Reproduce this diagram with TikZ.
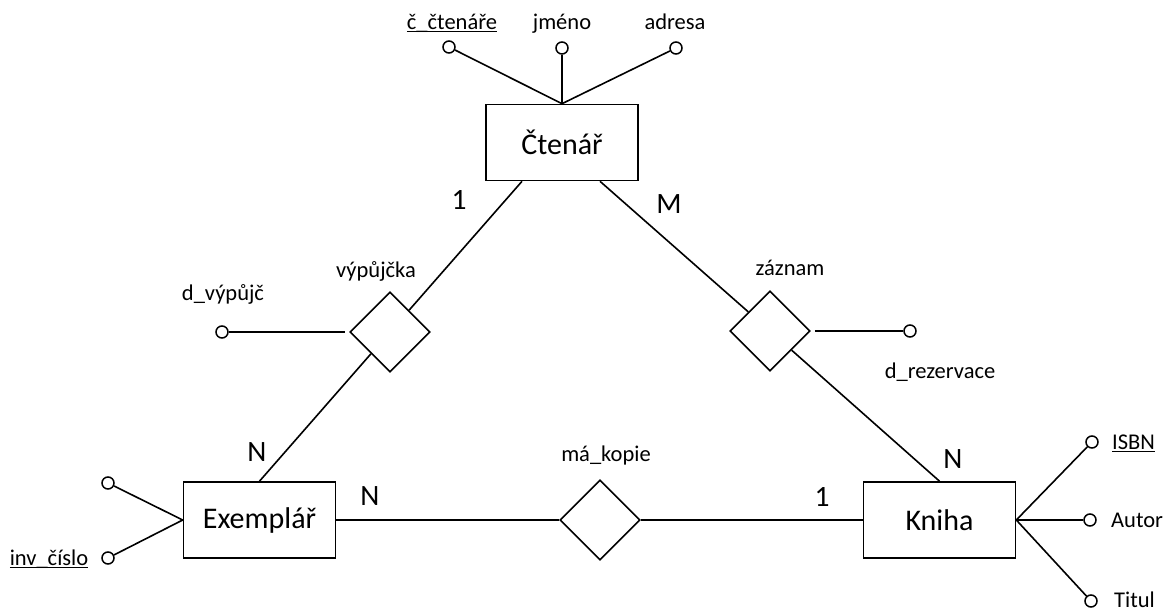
\documentclass[tikz,border=0pt]{standalone}
\usepackage{fontspec}
\setmainfont{Carlito}
\usetikzlibrary{shapes.geometric}
% key attribute: underline at the height of the underscore
\newcommand\keyattr[1]{\setbox0\hbox{#1}\rlap{\rule[-2.9pt]{\wd0}{1.2pt}}\box0}
\tikzset{
  entity/.style={draw, line width=1.6pt, minimum width=152pt, minimum height=76pt,
    inner sep=0pt, font=\fontsize{30}{36}\selectfont},
  relation/.style={draw, diamond, line width=1.6pt, minimum width=80pt,
    minimum height=80pt, inner sep=0pt},
  attr/.style={draw, circle, line width=1.5pt, minimum size=12pt, inner sep=0pt},
  lbl/.style={inner sep=0pt, anchor=base, font=\fontsize{22.5}{27}\selectfont},
  card/.style={inner sep=0pt, anchor=base, font=\fontsize{29.5}{35}\selectfont},
  link/.style={line width=1.6pt},
}
\begin{document}
\begin{tikzpicture}[x=1pt, y=-1pt]
\useasboundingbox (0,0) rectangle (1171,613);

% entities
\node[entity] (ctenar) at (562,142.5) {Čtenář};
\node[entity] (exemplar) at (259.5,520) {Exemplář};
\node[entity] (kniha) at (939.5,520) {Kniha};

% relationships
\node[relation] (vypujcka) at (390,332) {};
\node[relation] (zaznam) at (770,331) {};
\node[relation] (makopie) at (600,520) {};

% attribute circles
\node[attr] (cislo) at (449,47) {};
\node[attr] (jmeno) at (562,48) {};
\node[attr] (adresa) at (676,48) {};
\node[attr] (dvyp) at (222,332) {};
\node[attr] (drez) at (910,331) {};
\node[attr] (exa) at (108,483) {};
\node[attr] (inv) at (108,558) {};
\node[attr] (isbn) at (1092,442) {};
\node[attr] (autor) at (1090,520) {};
\node[attr] (titul) at (1091,601) {};

% labels
\node[lbl] (lcislo) at (452,29) {\keyattr{č\_čtenáře}};
\node[lbl] (ljmeno) at (562,29) {jméno};
\node[lbl] (ladresa) at (675,29) {adresa};
\node[lbl] (lvyp) at (376,277) {výpůjčka};
\node[lbl] (ldvyp) at (223,300) {d\_výpůjč};
\node[lbl] (lzaz) at (790,275) {záznam};
\node[lbl] (ldrez) at (940,378) {d\_rezervace};
\node[lbl] (lmak) at (606,461) {má\_kopie};
\node[lbl] (linv) at (49,565) {\keyattr{inv\_číslo}};
\node[lbl, anchor=base west] (lisbn) at (1112,449) {\keyattr{ISBN}};
\node[lbl, anchor=base west] (lautor) at (1111,527) {Autor};
\node[lbl, anchor=base west] (ltitul) at (1114,607) {Titul};

% cardinalities
\node[card] (k1) at (459,209) {1};
\node[card] (k2) at (669,213) {M};
\node[card] (k3) at (257,461) {N};
\node[card] (k4) at (370,505) {N};
\node[card] (k5) at (822,506) {1};
\node[card] (k6) at (953,468) {N};

% relationship connectors
\coordinate (c1) at ([xshift=-40pt]ctenar.south);
\coordinate (c2) at ([xshift=38pt]ctenar.south);
\draw[link] (c1) -- (vypujcka);
\draw[link] (vypujcka) -- (exemplar.north);
\draw[link] (c2) -- (zaznam);
\draw[link] (zaznam) -- (kniha.north);
\draw[link] (exemplar) -- (makopie);
\draw[link] (makopie) -- (kniha);

% attribute connectors
\draw[link] (cislo) -- (ctenar.north);
\draw[link] (jmeno) -- (ctenar.north);
\draw[link] (adresa) -- (ctenar.north);
\draw[link, shorten >=4pt] (dvyp) -- (vypujcka.west);
\draw[link, shorten <=4pt] (zaznam.east) -- (drez);
\draw[link] (exa) -- (exemplar.west);
\draw[link] (inv) -- (exemplar.west);
\draw[link] (isbn) -- (kniha.east);
\draw[link] (autor) -- (kniha.east);
\draw[link] (titul) -- (kniha.east);
\end{tikzpicture}
\end{document}
